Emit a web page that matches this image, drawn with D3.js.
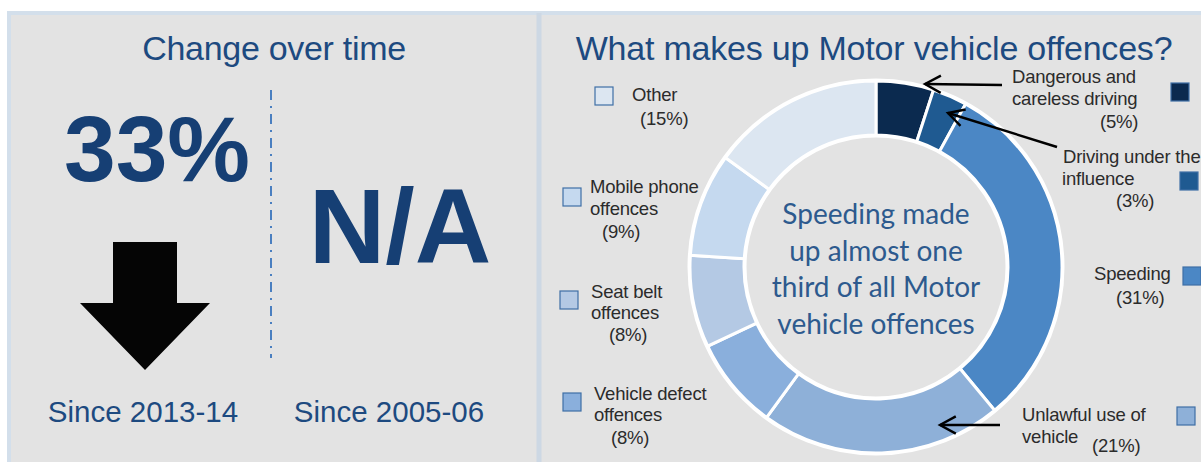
<!DOCTYPE html>
<html>
<head>
<meta charset="utf-8">
<script src="https://cdn.jsdelivr.net/npm/d3@7"></script>
<style>
  body { margin: 0; background: #fff; }
  svg { display: block; }
</style>
</head>
<body>
<div id="chart"></div>
<script>
// data
var categories = ["Dangerous and careless driving", "Driving under the influence", "Speeding",
  "Unlawful use of vehicle", "Vehicle defect offences", "Seat belt offences",
  "Mobile phone offences", "Other"];
var shares = [5, 3, 31, 21, 8, 8, 9, 15];
var colours = ["#0b2a4f", "#1f5a91", "#4b87c5", "#8eb0d8", "#8aafdc", "#b4c9e4", "#c5d9ef", "#dce6f1"];
var changeValues = ["33%", "N/A"];
var changeLabels = ["Since 2013-14", "Since 2005-06"];

var svgWidth = 1201;
var svgHeight = 462;

var svg = d3.select("#chart")
  .append("svg")
  .attr("width", svgWidth)
  .attr("height", svgHeight);

// panels
svg.append("rect").attr("x", 9).attr("y", 13).attr("width", 1200).attr("height", 460)
  .attr("fill", "#e3e3e3").attr("stroke", "#d3dfeb").attr("stroke-width", 4);
svg.append("line").attr("x1", 539).attr("x2", 539).attr("y1", 13).attr("y2", 462)
  .attr("stroke", "#cdd8e4").attr("stroke-width", 5);

var blue = "#1d4a80";

// ---- left panel: change over time ----
svg.append("text").attr("x", 274).attr("y", 60).attr("text-anchor", "middle")
  .attr("font-family", "Liberation Sans, Arial, sans-serif").attr("font-size", 34)
  .attr("letter-spacing", -0.3).attr("fill", blue).text("Change over time");

svg.append("text").attr("x", 157).attr("y", 181).attr("text-anchor", "middle")
  .attr("font-family", "Liberation Sans, Arial, sans-serif").attr("font-weight", "bold")
  .attr("font-size", 93).attr("fill", "#163f74").text(changeValues[0]);

svg.append("text").attr("x", 400).attr("y", 263).attr("text-anchor", "middle")
  .attr("font-family", "Liberation Sans, Arial, sans-serif").attr("font-weight", "bold")
  .attr("font-size", 106).attr("fill", "#163f74").text(changeValues[1]);

// down arrow
svg.append("path")
  .attr("d", "M113,242 H177 V303 H210 L145,370 L80,303 H113 Z")
  .attr("fill", "#050505");

// dash-dot divider
svg.append("line").attr("x1", 271).attr("x2", 271).attr("y1", 90).attr("y2", 358)
  .attr("stroke", "#4a7fc0").attr("stroke-width", 2)
  .attr("stroke-dasharray", "10,6,2,6");

svg.selectAll(".since").data(changeLabels).enter().append("text")
  .attr("class", "since")
  .attr("x", (d, i) => i === 0 ? 143 : 389)
  .attr("y", 422).attr("text-anchor", "middle")
  .attr("font-family", "Liberation Sans, Arial, sans-serif").attr("font-size", 29.5)
  .attr("fill", blue).text(d => d);

// ---- right panel: donut ----
svg.append("text").attr("x", 874).attr("y", 60).attr("text-anchor", "middle")
  .attr("font-family", "Liberation Sans, Arial, sans-serif").attr("font-size", 34)
  .attr("letter-spacing", -0.2).attr("fill", blue).text("What makes up Motor vehicle offences?");

var cx = 876, cy = 267;
var outerR = 186, innerR = 132;

var pie = d3.pie().sort(null).value(d => d)(shares);
var arc = d3.arc().innerRadius(innerR).outerRadius(outerR);

var donut = svg.append("g").attr("transform", `translate(${cx}, ${cy})`);
donut.selectAll("path").data(pie).enter().append("path")
  .attr("d", arc)
  .attr("fill", (d, i) => colours[i])
  .attr("stroke", "#fff").attr("stroke-width", 3);
donut.append("circle").attr("r", outerR + 1).attr("fill", "none").attr("stroke", "#fff").attr("stroke-width", 3);
donut.append("circle").attr("r", innerR - 1).attr("fill", "none").attr("stroke", "#fff").attr("stroke-width", 3);

var centreLines = ["Speeding made", "up almost one", "third of all Motor", "vehicle offences"];
donut.selectAll(".centre").data(centreLines).enter().append("text")
  .attr("class", "centre")
  .attr("x", 0).attr("y", (d, i) => -43 + i * 36.5)
  .attr("text-anchor", "middle")
  .attr("font-family", "Lato, Open Sans, sans-serif").attr("font-size", 28)
  .attr("fill", "#2d5a8e").text(d => d);

// legend layout: square position and text lines [text, x, y]
var legendLayout = [
  { sq: [1171, 83], lines: [["Dangerous and", 1012, 83], ["careless driving", 1012, 105], ["(5%)", 1100, 128]] },
  { sq: [1180, 172], lines: [["Driving under the", 1063, 163], ["influence", 1062, 185], ["(3%)", 1116, 207]] },
  { sq: [1183, 267], lines: [["Speeding", 1094, 280], ["(31%)", 1116, 304]] },
  { sq: [1177, 407], lines: [["Unlawful use of", 1022, 421], ["vehicle", 1022, 443], ["(21%)", 1092, 452]] },
  { sq: [563, 393], lines: [["Vehicle defect", 594, 400], ["offences", 594, 421], ["(8%)", 611, 444]] },
  { sq: [560, 291], lines: [["Seat belt", 591, 298], ["offences", 591, 319], ["(8%)", 609, 341]] },
  { sq: [563, 188], lines: [["Mobile phone", 590, 193], ["offences", 590, 215], ["(9%)", 602, 238]] },
  { sq: [595, 87], lines: [["Other", 632, 101], ["(15%)", 640, 125]] }
];

var legend = svg.selectAll(".legend").data(legendLayout).enter().append("g").attr("class", "legend");
legend.append("rect")
  .attr("x", d => d.sq[0]).attr("y", d => d.sq[1])
  .attr("width", 18).attr("height", 18)
  .attr("fill", (d, i) => colours[i])
  .attr("stroke", "#3f6fa6").attr("stroke-width", 1.2);
legend.selectAll("text").data(d => d.lines).enter().append("text")
  .attr("x", d => d[1]).attr("y", d => d[2])
  .attr("font-family", "Liberation Sans, Arial, sans-serif").attr("font-size", 18.5)
  .attr("letter-spacing", -0.2).attr("fill", "#2b2b2b")
  .text(d => d[0]);

// pointer arrows
var pointers = [[1002, 85, 925, 84], [1057, 147, 948, 113], [1000, 425, 940, 425]];
pointers.forEach(function(p) {
  var ang = Math.atan2(p[3] - p[1], p[2] - p[0]);
  var hl = 18, spread = 0.5;
  svg.append("line").attr("x1", p[0]).attr("y1", p[1]).attr("x2", p[2]).attr("y2", p[3])
    .attr("stroke", "#000").attr("stroke-width", 2.4);
  svg.append("path")
    .attr("d", `M${p[2] - hl * Math.cos(ang - spread)},${p[3] - hl * Math.sin(ang - spread)}
      L${p[2]},${p[3]} L${p[2] - hl * Math.cos(ang + spread)},${p[3] - hl * Math.sin(ang + spread)}`)
    .attr("fill", "none").attr("stroke", "#000").attr("stroke-width", 2.4);
});
</script>
</body>
</html>
